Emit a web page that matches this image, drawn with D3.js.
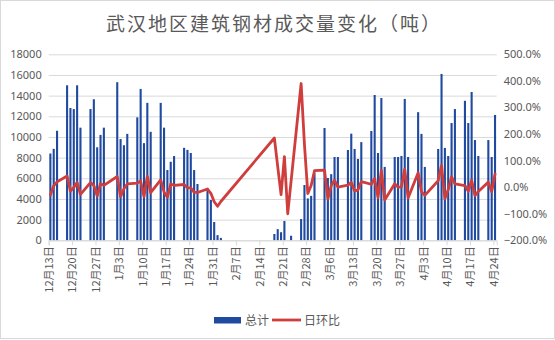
<!DOCTYPE html>
<html><head><meta charset="utf-8">
<script src="https://cdn.jsdelivr.net/npm/d3@7/dist/d3.min.js"></script>
<style>
html,body{margin:0;padding:0;background:#fff;}
svg{display:block;}
</style></head>
<body>
<svg id="chart" width="555" height="340"></svg>
<script>
const title = "武汉地区建筑钢材成交量变化（吨）";
const seriesNames = ["总计", "日环比"];

const dates = [
"2019-12-13","2019-12-14","2019-12-15",
"2019-12-18","2019-12-19","2019-12-20","2019-12-21","2019-12-22",
"2019-12-25","2019-12-26","2019-12-27","2019-12-28","2019-12-29",
"2020-01-02","2020-01-03","2020-01-04","2020-01-05",
"2020-01-08","2020-01-09","2020-01-10","2020-01-11","2020-01-12",
"2020-01-15","2020-01-16","2020-01-17","2020-01-18","2020-01-19",
"2020-01-22","2020-01-23","2020-01-24","2020-01-25","2020-01-26",
"2020-01-29","2020-01-30","2020-01-31","2020-02-01","2020-02-02",
"2020-02-18","2020-02-19","2020-02-20","2020-02-21","2020-02-22","2020-02-23",
"2020-02-26","2020-02-27","2020-02-28","2020-02-29","2020-03-01",
"2020-03-04","2020-03-05","2020-03-06","2020-03-07","2020-03-08",
"2020-03-11","2020-03-12","2020-03-13","2020-03-14","2020-03-15",
"2020-03-18","2020-03-19","2020-03-20","2020-03-21","2020-03-22",
"2020-03-25","2020-03-26","2020-03-27","2020-03-28","2020-03-29",
"2020-04-01","2020-04-02","2020-04-03",
"2020-04-07","2020-04-08","2020-04-09","2020-04-10","2020-04-11","2020-04-12",
"2020-04-15","2020-04-16","2020-04-17","2020-04-18","2020-04-19",
"2020-04-22","2020-04-23","2020-04-24"
];

const totals = [
8400,8850,10600,
15000,12800,12700,15000,10900,
12700,13650,9000,10200,10900,
15300,9800,9200,10300,
11900,14650,9400,13300,10500,
13300,10900,6800,7600,8150,
8950,8750,8450,6800,5450,
5050,3900,1770,500,230,
610,1080,780,1870,0,440,
2060,5350,4050,4300,6480,
10870,6030,6400,8060,8060,
8740,10320,8840,7870,9500,
10580,14060,8450,13770,7100,
8060,8060,8160,13680,8060,
12400,10300,7100,
8840,16100,8940,8160,11350,12700,
13500,11350,14350,9700,8160,
9700,8060,12130
];

// 日环比, percent (null = not plotted)
const ratios = [
-30,5,20,
42,-15,-1,18,-27,
17,7,-34,13,7,
40,-36,-6,12,
15,23,-36,41,-21,
27,-18,-38,12,7,
10,-2,-3,-20,-20,
-7,-23,-55,-72,-54,
185,77,-28,115,-100,null,
390,160,-24,6,62,
64,-45,6,26,0,
8,18,-14,-11,21,
11,33,-40,63,-48,
13,0,1,68,-41,
54,-17,-31,
24,82,-44,-9,39,12,
6,-16,26,-32,-16,
19,-17,50
];

const xTickDates = ["2019-12-13","2019-12-20","2019-12-27","2020-01-03","2020-01-10","2020-01-17","2020-01-24","2020-01-31","2020-02-07","2020-02-14","2020-02-21","2020-02-28","2020-03-06","2020-03-13","2020-03-20","2020-03-27","2020-04-03","2020-04-10","2020-04-17","2020-04-24"];
const xTickLabels = ["12月13日","12月20日","12月27日","1月3日","1月10日","1月17日","1月24日","1月31日","2月7日","2月14日","2月21日","2月28日","3月6日","3月13日","3月20日","3月27日","4月3日","4月10日","4月17日","4月24日"];
const leftTicks = [0,2000,4000,6000,8000,10000,12000,14000,16000,18000];
const rightTicks = [-200,-100,0,100,200,300,400,500];
const xDomain = ["2019-12-13","2020-04-25"];

const svg = d3.select("#chart");
const W = 555, H = 340;
const plot = {left: 48.7, right: 496.7, top: 54.3, bottom: 240.3};
const gray = "#595959";
const fontNum = "'Noto Sans','Liberation Sans',sans-serif";
const fontCJK = "'Noto Sans CJK SC','Noto Sans',sans-serif";

svg.append("rect").attr("x",0.5).attr("y",0.5).attr("width",W-1).attr("height",H-2)
  .attr("fill","#fff").attr("stroke","#d9d9d9").attr("stroke-width",1);

const parse = s => new Date(s + "T00:00:00Z");
const x = d3.scaleUtc().domain(xDomain.map(parse)).range([plot.left, plot.right]);
const yL = d3.scaleLinear().domain([0,18000]).range([plot.bottom, plot.top]);
const yR = d3.scaleLinear().domain([-200,500]).range([plot.bottom, plot.top]);
const dayW = x(parse("2019-12-14")) - x(parse("2019-12-13"));
const cx = s => x(parse(s)) + dayW/2;

// gridlines
const grid = svg.append("g").attr("transform",`translate(${plot.left},0)`)
  .call(d3.axisLeft(yL).tickValues(leftTicks).tickSize(-(plot.right-plot.left)).tickFormat(""));
grid.select(".domain").remove();
grid.selectAll("line").attr("stroke","#d9d9d9").attr("stroke-width",1);

// left axis labels
const ax = svg.append("g").attr("transform",`translate(${plot.left-7},0)`)
  .call(d3.axisLeft(yL).tickValues(leftTicks).tickSize(0).tickPadding(0).tickFormat(d3.format("d")));
ax.select(".domain").remove();
ax.selectAll("text").attr("fill",gray).style("font-family",fontNum).style("font-size","11px");

// right axis labels
const ar = svg.append("g").attr("transform",`translate(${plot.right+7},0)`)
  .call(d3.axisRight(yR).tickValues(rightTicks).tickSize(0).tickPadding(0).tickFormat(d => d3.format(".1f")(d) + "%"));
ar.select(".domain").remove();
ar.selectAll("text").attr("fill",gray).style("font-family",fontNum).style("font-size","11px");

// bars
const data = dates.map((d,i) => ({date: d, total: totals[i], ratio: ratios[i]}));
const bw = 2.1;
svg.append("g").selectAll("rect").data(data).join("rect")
  .attr("x", d => cx(d.date) - bw/2)
  .attr("y", d => yL(d.total))
  .attr("width", bw)
  .attr("height", d => yL(0) - yL(d.total))
  .attr("fill", "#1f4aa0");

// x axis
const xa = svg.append("g").attr("transform",`translate(0,${plot.bottom})`)
  .call(d3.axisBottom(x).tickValues(xTickDates.map(parse)).tickSize(5).tickFormat(""));
xa.select(".domain").attr("stroke","#d9d9d9");
xa.selectAll(".tick line").attr("stroke","#d9d9d9");
xa.selectAll(".tick").append("text")
  .text((d,i) => xTickLabels[i])
  .attr("transform","translate(0,6) rotate(-90)")
  .attr("text-anchor","end").attr("dy","0.35em").attr("x",0).attr("y",0)
  .attr("fill",gray).style("font-family",fontCJK).style("font-size","11px");

// line
const lineData = data.filter(d => d.ratio !== null);
svg.append("path").datum(lineData)
  .attr("fill","none").attr("stroke","#cf3d3d").attr("stroke-width",2.8)
  .attr("stroke-linejoin","round").attr("stroke-linecap","round")
  .attr("d", d3.line().x(d => cx(d.date)).y(d => yR(d.ratio)));

// title
svg.append("text").attr("x",274).attr("y",31).attr("text-anchor","middle")
  .attr("fill",gray).style("font-family",fontCJK).style("font-size","19px")
  .style("letter-spacing","2px").text(title);

// legend
const lg = svg.append("g");
lg.append("rect").attr("x",214).attr("y",317).attr("width",27).attr("height",6.5).attr("fill","#1f4aa0");
lg.append("text").attr("x",245).attr("y",324.5).text(seriesNames[0])
  .attr("fill",gray).style("font-family",fontCJK).style("font-size","12px");
lg.append("line").attr("x1",272).attr("x2",301).attr("y1",320).attr("y2",320)
  .attr("stroke","#cf3d3d").attr("stroke-width",2.8);
lg.append("text").attr("x",304).attr("y",324.5).text(seriesNames[1])
  .attr("fill",gray).style("font-family",fontCJK).style("font-size","12px");
</script>
</body></html>
